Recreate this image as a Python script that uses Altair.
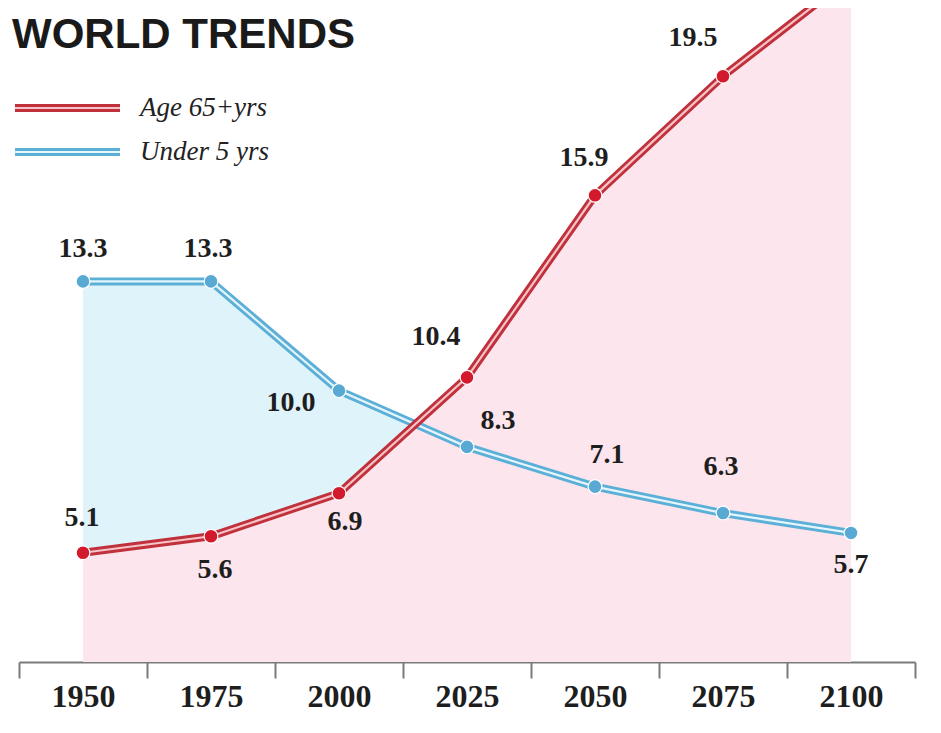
import altair as alt
import pandas as pd

# ---- data ----
years = [1950, 1975, 2000, 2025, 2050, 2075, 2100]
age65 = [5.1, 5.6, 6.9, 10.4, 15.9, 19.5, 22.5]
under5 = [13.3, 13.3, 10.0, 8.3, 7.1, 6.3, 5.7]
series_names = ["Age 65+yrs", "Under 5 yrs"]
chart_title = "WORLD TRENDS"

df = pd.DataFrame({"year": years, "age65": age65, "under5": under5})

# ---- style ----
RED_OUT, RED_IN, RED_DOT = "#c0313c", "#f5c3c8", "#d21a2c"
BLUE_OUT, BLUE_IN, BLUE_DOT = "#5cafd7", "#e4f5fb", "#58a9d4"
PINK_FILL, BLUE_FILL = "#fce5ec", "#def3fa"
W, H = 896, 654

yscale = alt.Scale(domain=[1.80, 21.56], zero=False, nice=False)
X = alt.X(
    "year:O",
    bandPosition=0.5,
    scale=alt.Scale(type="band", paddingInner=0, paddingOuter=0),
    axis=alt.Axis(
        title=None, tickBand="extent", tickSize=16, tickWidth=2,
        tickColor="#7a7a7a", domainColor="#7a7a7a", domainWidth=2,
        labelFont="Liberation Serif", labelFontWeight="bold", labelFontSize=32,
        labelColor="#1e1e1e", labelPadding=3, labelAngle=0, grid=False,
    ),
)

base = alt.Chart(df)

blue_area = base.mark_area(color=BLUE_FILL, opacity=1, clip=True).encode(
    x=X, y=alt.Y("under5:Q", scale=yscale, axis=None), y2="age65:Q")
pink_area = base.mark_area(color=PINK_FILL, opacity=1, clip=True).encode(
    x=X, y=alt.Y("age65:Q", scale=yscale, axis=None), y2=alt.datum(1.80))

def line(col, color, width):
    return base.mark_line(color=color, strokeWidth=width, clip=True).encode(
        x=X, y=alt.Y(f"{col}:Q", scale=yscale, axis=None))

def pts(col, color):
    return base.mark_point(filled=True, color=color, size=190, opacity=1,
                           stroke="white", strokeWidth=1.2, clip=True).encode(
        x=X, y=alt.Y(f"{col}:Q", scale=yscale, axis=None))

# label placement (dx, dy) per point
red_pos = {1950: (-1, -35), 1975: (4, 34), 2000: (6, 29), 2025: (-31, -40),
           2050: (-11, -37), 2075: (-30, -38)}
blue_pos = {1950: (0, -32), 1975: (-3, -32), 2000: (-48, 12), 2025: (31, -26),
            2050: (12, -32), 2075: (-2, -46), 2100: (0, 32)}

def labels(col, pos):
    out = []
    for yr, (dx, dy) in pos.items():
        out.append(base.transform_filter(alt.datum.year == yr).mark_text(
            dx=dx, dy=dy, font="Liberation Serif", fontWeight="bold",
            fontSize=28, color="#1e1e1e", baseline="middle", align="center").encode(
            x=X, y=alt.Y(f"{col}:Q", scale=yscale, axis=None),
            text=alt.Text(f"{col}:Q", format=".1f")))
    return out

one = alt.Chart(pd.DataFrame({"k": [0]}))
def legend_item(vy, out_c, in_c, label):
    return [
        one.mark_rule(color=out_c, strokeWidth=8).encode(
            x=alt.value(-4), x2=alt.value(101), y=alt.value(vy)),
        one.mark_rule(color=in_c, strokeWidth=2.2).encode(
            x=alt.value(-4), x2=alt.value(101), y=alt.value(vy)),
        one.mark_text(text=label, font="Liberation Serif", fontStyle="italic",
                      fontSize=27, color="#222222", align="left", baseline="middle").encode(
            x=alt.value(121), y=alt.value(vy)),
    ]

title = one.mark_text(text=chart_title, font="Liberation Sans", fontWeight="bold",
                      fontSize=42, color="#1a1a1a", align="left",
                      baseline="alphabetic").encode(
    x=alt.value(-7), y=alt.value(40))

layers = [blue_area, pink_area,
          line("under5", BLUE_OUT, 8), line("under5", BLUE_IN, 2.2),
          line("age65", RED_OUT, 8), line("age65", RED_IN, 2.2),
          pts("under5", BLUE_DOT), pts("age65", RED_DOT)]
layers += labels("age65", red_pos) + labels("under5", blue_pos)
layers += legend_item(100, RED_OUT, RED_IN, series_names[0])
layers += legend_item(144, BLUE_OUT, BLUE_IN, series_names[1])
layers += [title]

chart = alt.layer(*layers).properties(
    width=W, height=H,
    background="white",
    autosize=alt.AutoSizeParams(type="none"),
    padding={"left": 11, "top": 0, "right": 14, "bottom": 60},
).configure_view(stroke=None, strokeWidth=0)

chart.save("out.html", embed_options={"renderer": "svg", "actions": False})
